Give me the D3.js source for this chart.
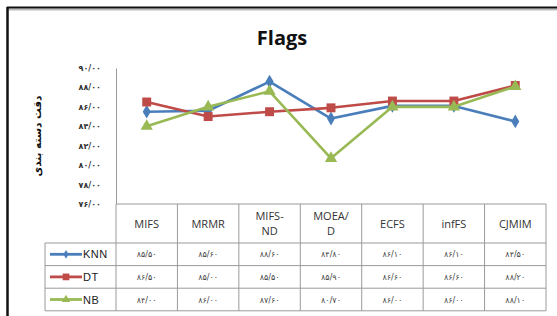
<!DOCTYPE html>
<html>
<head>
<meta charset="utf-8">
<script src="https://cdn.jsdelivr.net/npm/d3@7"></script>
<style>
  body { margin: 0; background: #fff; }
  svg { display: block; }
</style>
</head>
<body>
<svg id="chart" width="557" height="316"></svg>
<script>
const categories = ["MIFS", "MRMR", "MIFS-ND", "MOEA/D", "ECFS", "infFS", "CJMIM"];
const headerLines = [["MIFS"], ["MRMR"], ["MIFS-", "ND"], ["MOEA/", "D"], ["ECFS"], ["infFS"], ["CJMIM"]];
const knn = [85.5, 85.6, 88.6, 84.8, 86.1, 86.1, 84.5];
const dt = [86.5, 85.0, 85.5, 85.9, 86.6, 86.6, 88.2];
const nb = [84.0, 86.0, 87.6, 80.7, 86.0, 86.0, 88.1];
const yTicks = [76, 78, 80, 82, 84, 86, 88, 90];

const series = [
  { name: "KNN", values: knn, color: "#4a7ebb", symbol: d3.symbolDiamond, size: 55, legendSize: 22 },
  { name: "DT", values: dt, color: "#be4b48", symbol: d3.symbolSquare, size: 80, legendSize: 45 },
  { name: "NB", values: nb, color: "#98b954", symbol: d3.symbolTriangle, size: 65, legendSize: 30 }
];

// persian digits, "/" as decimal mark
const faDigits = "۰۱۲۳۴۵۶۷۸۹";
const fa = v => v.toFixed(2).replace(".", "/").replace(/\d/g, c => faDigits[+c]);

const svg = d3.select("#chart");
const plot = { left: 116, right: 546, top: 68, bottom: 204 };
const rowH = 22.6;
const headerBottom = 243;
const legendLeft = 45;
const gridColor = "#9a9a9a";

// outer frame
svg.append("line").attr("x1", 8).attr("x2", 557).attr("y1", 9.5).attr("y2", 9.5)
  .attr("stroke", "#bbb").attr("stroke-width", 2);
svg.append("line").attr("x1", 7).attr("x2", 557).attr("y1", 7.5).attr("y2", 7.5)
  .attr("stroke", "#111").attr("stroke-width", 2);
svg.append("line").attr("x1", 7.5).attr("x2", 7.5).attr("y1", 7).attr("y2", 316)
  .attr("stroke", "#111").attr("stroke-width", 2.5);

svg.append("text")
  .attr("x", 282).attr("y", 45)
  .attr("text-anchor", "middle")
  .attr("font-family", "'Open Sans', 'Liberation Sans', sans-serif")
  .attr("font-weight", "bold")
  .attr("font-size", 20)
  .attr("fill", "#111")
  .text("Flags");

const x = d3.scaleBand().domain(categories).range([plot.left, plot.right]);
const y = d3.scaleLinear().domain([76, 90]).range([plot.bottom, plot.top]);

// y axis
const yAxis = svg.append("g")
  .attr("transform", `translate(${plot.left},0)`)
  .call(d3.axisLeft(y).tickValues(yTicks).tickSize(0).tickPadding(15).tickFormat(fa));
yAxis.select(".domain").attr("stroke", gridColor);
yAxis.selectAll("text")
  .attr("font-family", "'DejaVu Sans', sans-serif")
  .attr("font-size", 8)
  .attr("font-weight", "bold")
  .attr("letter-spacing", 0.6)
  .attr("fill", "#333");

svg.append("text")
  .attr("transform", "translate(41,136) rotate(-90)")
  .attr("text-anchor", "middle")
  .attr("font-family", "'DejaVu Sans', sans-serif")
  .attr("font-weight", "bold")
  .attr("font-size", 10.5)
  .attr("fill", "#111")
  .text("دقت دسته بندی");

// lines + markers
const line = d3.line().x((d, i) => x(categories[i]) + x.bandwidth() / 2).y(d => y(d));
series.forEach(s => {
  svg.append("path")
    .datum(s.values)
    .attr("d", line)
    .attr("fill", "none")
    .attr("stroke", s.color)
    .attr("stroke-width", 2.6)
    .attr("stroke-linejoin", "round");
  svg.selectAll(null)
    .data(s.values)
    .join("path")
    .attr("transform", (d, i) => `translate(${x(categories[i]) + x.bandwidth() / 2},${y(d)})`)
    .attr("d", d3.symbol(s.symbol, s.size))
    .attr("fill", s.color);
});

// data table
const tbl = svg.append("g").attr("stroke", gridColor).attr("stroke-width", 1).attr("fill", "none");
const tableBottom = headerBottom + rowH * series.length;
tbl.append("line").attr("x1", plot.left).attr("x2", plot.right).attr("y1", plot.bottom).attr("y2", plot.bottom);
for (let r = 0; r <= series.length; r++) {
  const yy = headerBottom + r * rowH;
  tbl.append("line").attr("x1", legendLeft).attr("x2", plot.right).attr("y1", yy).attr("y2", yy);
}
tbl.append("line").attr("x1", legendLeft).attr("x2", legendLeft).attr("y1", headerBottom).attr("y2", tableBottom);
categories.forEach((c, i) => {
  const xx = x(c);
  tbl.append("line").attr("x1", xx).attr("x2", xx).attr("y1", plot.bottom).attr("y2", tableBottom);
});
tbl.append("line").attr("x1", plot.right).attr("x2", plot.right).attr("y1", plot.bottom).attr("y2", tableBottom);

// header labels
categories.forEach((c, i) => {
  const lines = headerLines[i];
  const cx = x(c) + x.bandwidth() / 2;
  const cy = (plot.bottom + headerBottom) / 2;
  const t = svg.append("text")
    .attr("text-anchor", "middle")
    .attr("font-family", "'Open Sans', 'Liberation Sans', sans-serif")
    .attr("font-size", 11)
    .attr("fill", "#333");
  lines.forEach((l, k) => {
    t.append("tspan")
      .attr("x", cx)
      .attr("y", cy + 4 + (k - (lines.length - 1) / 2) * 15)
      .text(l);
  });
});

// rows
series.forEach((s, r) => {
  const cy = headerBottom + r * rowH + rowH / 2;
  svg.append("line").attr("x1", 50).attr("x2", 82).attr("y1", cy).attr("y2", cy)
    .attr("stroke", s.color).attr("stroke-width", 2.8);
  svg.append("path")
    .attr("transform", `translate(66,${cy})`)
    .attr("d", d3.symbol(s.symbol, s.legendSize))
    .attr("fill", s.color);
  svg.append("text")
    .attr("x", 83).attr("y", cy + 4)
    .attr("font-family", "'Liberation Sans', sans-serif")
    .attr("font-size", 11)
    .attr("letter-spacing", 0.5)
    .attr("fill", "#222")
    .text(s.name);
  s.values.forEach((v, i) => {
    svg.append("text")
      .attr("x", x(categories[i]) + x.bandwidth() / 2)
      .attr("y", cy + 3)
      .attr("text-anchor", "middle")
      .attr("direction", "ltr")
      .attr("font-family", "'DejaVu Sans', sans-serif")
      .attr("font-size", 8)
      .attr("letter-spacing", 0.8)
      .attr("fill", "#444")
      .text(fa(v));
  });
});
</script>
</body>
</html>
